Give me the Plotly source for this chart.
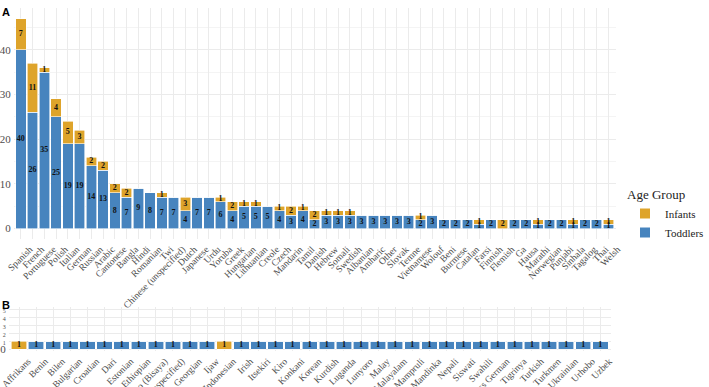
import plotly.graph_objects as go

# ---- Panel A data ----
langs_a = ["Spanish", "French", "Portuguese", "Polish", "Italian", "German", "Russian", "Arabic",
           "Cantonese", "Bangla", "Hindi", "Romanian", "Twi", "Chinese (unspecified)", "Dutch",
           "Japanese", "Urdu", "Yoruba", "Greek", "Hungarian", "Lithuanian", "Creole", "Czech",
           "Mandarin", "Tamil", "Danish", "Hebrew", "Somali", "Swedish", "Albanian", "Amharic",
           "Other", "Slovak", "Temne", "Vietnamese", "Wolouf", "Beni", "Burmese", "Catalan",
           "Farsi", "Finnish", "Flemish", "Ga", "Hausa", "Marathi", "Norwegian", "Punjabi",
           "Sinhala", "Tagalog", "Thai", "Welsh"]
toddlers_a = [40, 26, 35, 25, 19, 19, 14, 13, 8, 7, 9, 8, 7, 7, 4, 7, 7, 6, 4, 5, 5, 5, 4, 3, 4,
              2, 3, 3, 3, 3, 3, 3, 3, 3, 2, 3, 2, 2, 2, 1, 2, 0, 2, 2, 1, 2, 2, 1, 2, 2, 1]
infants_a = [7, 11, 1, 4, 5, 3, 2, 2, 2, 2, 0, 0, 1, 0, 3, 0, 0, 1, 2, 1, 1, 0, 1, 2, 1,
             2, 1, 1, 1, 0, 0, 0, 0, 0, 1, 0, 0, 0, 0, 1, 0, 2, 0, 0, 1, 0, 0, 1, 0, 0, 1]

# ---- Panel B data ----
langs_b = ["Affrikans", "Benin", "Bilen", "Bulgarian", "Croatian", "Dari", "Estonian", "Ethiopian",
           "Filipino (Bisaya)", "Filipino (unspecified)", "Georgian", "Ijaw", "Indonesian", "Irish",
           "Itsekiri", "Kiro", "Konkani", "Korean", "Kurdish", "Luganda", "Lunyoro", "Malay",
           "Malayalam", "Mampruli", "Mandinka", "Nepali", "Siswati", "Swahili", "Swiss German",
           "Tigrinya", "Turkish", "Turkmen", "Ukrainian", "Urhobo", "Uzbek"]
toddlers_b = [0, 1, 1, 1, 1, 1, 1, 1, 1, 1, 1, 1, 0, 1, 1, 1, 1, 1, 1, 1, 1, 1, 1, 1, 1, 1, 1, 1,
              1, 1, 1, 1, 1, 1, 1]
infants_b = [1, 0, 0, 0, 0, 0, 0, 0, 0, 0, 0, 0, 1, 0, 0, 0, 0, 0, 0, 0, 0, 0, 0, 0, 0, 0, 0, 0,
             0, 0, 0, 0, 0, 0, 0]

yticks_a = [0, 10, 20, 30, 40]
yticks_b = [0, 1, 2, 3, 4, 5]

C_INF = "#DEA42B"
C_TOD = "#4784BE"
SERIF = "Liberation Serif"
W, H = 709, 387

fig = go.Figure()


def add_panel(langs, tod, inf, xa, ya, showlegend):
    fig.add_trace(go.Bar(x=langs, y=tod, name="Toddlers", marker=dict(color=C_TOD, line=dict(color="white", width=0.6)),
                         xaxis=xa, yaxis=ya, showlegend=showlegend, legendgroup="t", hoverinfo="skip"))
    fig.add_trace(go.Bar(x=langs, y=inf, name="Infants", marker=dict(color=C_INF, line=dict(color="white", width=0.6)),
                         xaxis=xa, yaxis=ya, showlegend=showlegend, legendgroup="i", hoverinfo="skip"))
    # labels centred in each segment
    lx, ly, lt = [], [], []
    for c, t, i in zip(langs, tod, inf):
        if t > 0:
            lx.append(c); ly.append(t / 2); lt.append(str(t))
        if i > 0:
            lx.append(c); ly.append(t + i / 2); lt.append(str(i))
    fig.add_trace(go.Scatter(x=lx, y=ly, text=lt, mode="text", xaxis=xa, yaxis=ya, showlegend=False,
                             hoverinfo="skip",
                             textfont=dict(family=SERIF, size=8, color="#111111", weight="bold")))


add_panel(langs_a, toddlers_a, infants_a, "x", "y", True)
add_panel(langs_b, toddlers_b, infants_b, "x2", "y2", False)

grid = "#EBEBEB"
tickfont_x = dict(family=SERIF, size=9.5, color="#4D4D4D")
tickfont_y = dict(family=SERIF, size=11, color="#4D4D4D")

fig.update_layout(
    width=W, height=H,
    margin=dict(l=0, r=0, t=0, b=0),
    paper_bgcolor="white", plot_bgcolor="white",
    barmode="stack", bargap=0.1,
    font=dict(family=SERIF, color="#4D4D4D"),
    legend=dict(title=dict(text="Age Group", font=dict(family=SERIF, size=13, color="#222222")),
                traceorder="reversed", x=637 / W, y=1 - 182 / H, xanchor="left", yanchor="top",
                font=dict(family=SERIF, size=11, color="#222222"), itemsizing="constant",
                tracegroupgap=0, itemwidth=30, bgcolor="rgba(0,0,0,0)"),
    xaxis=dict(domain=[14 / W, 627 / W], type="category", range=[-0.6, len(langs_a) - 0.4],
               tickmode="array", tickvals=langs_a, ticktext=langs_a, ticklabelshift=9, ticklabelstandoff=2,
               anchor="y", tickangle=-45, tickfont=tickfont_x, showgrid=True, gridcolor=grid, gridwidth=1,
               zeroline=False, ticks="", automargin=False, showline=False),
    yaxis=dict(domain=[1 - 239 / H, 1 - 8 / H], range=[-2.35, 49.35], tickvals=yticks_a, anchor="x",
               tickfont=tickfont_y, showgrid=True, gridcolor=grid, zeroline=False, ticks="",
               automargin=False, ticklabelstandoff=2,
               minor=dict(tick0=5, dtick=10, showgrid=True, gridcolor="#F4F4F4")),
    xaxis2=dict(domain=[9 / W, 622 / W], type="category", range=[-0.6, len(langs_b) - 0.4],
                tickmode="array", tickvals=langs_b, ticktext=langs_b, ticklabelshift=9, ticklabelstandoff=2,
                anchor="y2", tickangle=-45, tickfont=tickfont_x, showgrid=True, gridcolor=grid, gridwidth=1,
                zeroline=False, ticks="", automargin=False, showline=False),
    yaxis2=dict(domain=[1 - 351 / H, 1 - 307 / H], range=[-0.25, 5.25], tickvals=yticks_b, anchor="x2",
                ticktext=[str(v) if v == 0 else "<span style='font-size:6px'>%d</span>" % v for v in yticks_b],
                tickfont=tickfont_y, showgrid=True, gridcolor=grid, zeroline=False, ticks="",
                automargin=False, ticklabelstandoff=2),
)

fig.add_annotation(text="<b>A</b>", x=0, y=1 - 4 / H, xref="paper", yref="paper", xanchor="left",
                   yanchor="top", showarrow=False, font=dict(family="Liberation Sans", size=11, color="black"))
fig.add_annotation(text="<b>B</b>", x=0, y=1 - 297 / H, xref="paper", yref="paper", xanchor="left",
                   yanchor="top", showarrow=False, font=dict(family="Liberation Sans", size=11, color="black"))

fig.write_html("out.html")
